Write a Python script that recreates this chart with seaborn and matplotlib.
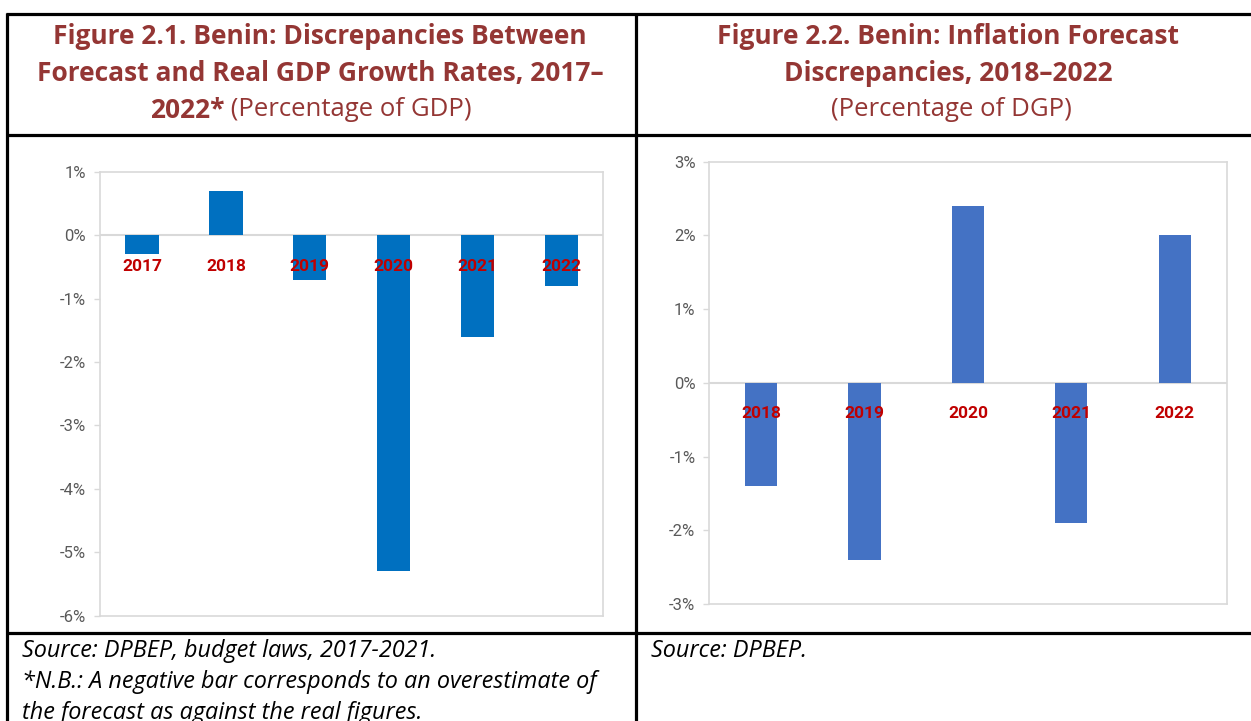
import matplotlib
matplotlib.use("Agg")
import matplotlib.pyplot as plt
from matplotlib.lines import Line2D
from matplotlib.ticker import FuncFormatter, MultipleLocator
import seaborn as sns

# Data
gdp_years = ["2017", "2018", "2019", "2020", "2021", "2022"]
gdp_gap = [-0.3, 0.7, -0.7, -5.3, -1.6, -0.8]

infl_years = ["2018", "2019", "2020", "2021", "2022"]
infl_gap = [-1.4, -2.4, 2.4, -1.9, 2.0]

title_left = ["Figure 2.1. Benin: Discrepancies Between",
              "Forecast and Real GDP Growth Rates, 2017\u2013"]
title_left_bold = "2022*"
title_left_sub = " (Percentage of GDP)"
title_right = ["Figure 2.2. Benin: Inflation Forecast",
               "Discrepancies, 2018\u20132022"]
title_right_sub = "(Percentage of DGP)"
source_left = ["Source: DPBEP, budget laws, 2017-2021.",
               "*N.B.: A negative bar corresponds to an overestimate of",
               "the forecast as against the real figures."]
source_right = "Source: DPBEP."

sns.set_style("white")
plt.rcParams["font.family"] = ["Open Sans", "DejaVu Sans"]

W, H = 1251, 721
fig = plt.figure(figsize=(W / 100, H / 100), dpi=100)

TITLE_COL = "#943634"
TICK_COL = "#595959"
GRID_COL = "#D9D9D9"
LABEL_COL = "#C00000"
AXFONT = ["Roboto", "DejaVu Sans"]


def fx(px):
    return px / W


def fy(py):
    return 1 - py / H


def pct(v, pos):
    return f"{int(round(v))}%"


def bar_panel(ax, years, vals, color, width, lo, hi, label_y):
    sns.barplot(x=years, y=vals, color=color, width=width, saturation=1,
                edgecolor="none", ax=ax)
    ax.set_ylim(lo, hi)
    ax.set_xlim(-0.5, len(years) - 0.5)
    ax.yaxis.set_major_locator(MultipleLocator(1))
    ax.yaxis.set_major_formatter(FuncFormatter(pct))
    ax.axhline(0, color=GRID_COL, lw=1.5, zorder=0)
    for s in ax.spines.values():
        s.set_color(GRID_COL)
        s.set_linewidth(1.2)
    ax.set_xticks([])
    ax.set_xlabel("")
    ax.set_ylabel("")
    ax.tick_params(axis="y", length=4, color=GRID_COL, width=1, pad=6,
                   labelcolor=TICK_COL, left=True)
    for lab in ax.get_yticklabels():
        lab.set_fontfamily(AXFONT)
        lab.set_fontsize(12)
    for i, y in enumerate(years):
        ax.text(i, label_y, y, ha="center", va="center", color=LABEL_COL,
                fontsize=12.5, fontweight="bold", family=AXFONT)


ax1 = fig.add_axes([fx(100), fy(615.7), fx(503.3), 444 / H])
bar_panel(ax1, gdp_years, gdp_gap, "#0070C0", 0.4, -6, 1, -0.5)

ax2 = fig.add_axes([fx(709.3), fy(604), fx(517.3), 442.3 / H])
bar_panel(ax2, infl_years, infl_gap, "#4472C4", 0.31, -3, 3, -0.42)

# Table borders
lw = 2.3
for (x0, y0, x1, y1) in [(6, 13.5, 1251, 13.5), (6, 135, 1251, 135),
                         (6, 633, 1251, 633), (7, 12.5, 7, 721),
                         (636, 12.5, 636, 721)]:
    fig.add_artist(Line2D([fx(x0), fx(x1)], [fy(y0), fy(y1)],
                          color="black", lw=lw, solid_capstyle="butt"))

# Titles
TS = 19
tkw = dict(color=TITLE_COL, fontsize=TS, ha="center", va="center")
for k, line in enumerate(title_left):
    fig.text(fx(320), fy(37 + 36.5 * k), line, fontweight="bold", **tkw)
for k, line in enumerate(title_right):
    fig.text(fx(948), fy(37 + 36.5 * k), line, fontweight="bold", **tkw)
fig.text(fx(951), fy(110), title_right_sub, color=TITLE_COL, fontsize=18.5,
         ha="center", va="center")

r = fig.canvas.get_renderer()
ta = fig.text(0, fy(110), title_left_bold, color=TITLE_COL, fontsize=TS,
              fontweight="bold", ha="left", va="center")
tb = fig.text(0, fy(110), title_left_sub, color=TITLE_COL, fontsize=18.5,
              ha="left", va="center")
wa = ta.get_window_extent(r).width
wb = tb.get_window_extent(r).width
start = 311 - (wa + wb) / 2
ta.set_x(fx(start))
tb.set_x(fx(start + wa))

# Sources
skw = dict(fontsize=16.8, style="italic", color="black", ha="left", va="center")
for k, line in enumerate(source_left):
    fig.text(fx(22), fy(651 + 31 * k), line, **skw)
fig.text(fx(651), fy(651), source_right, **skw)

fig.savefig("out.png", dpi=100)
